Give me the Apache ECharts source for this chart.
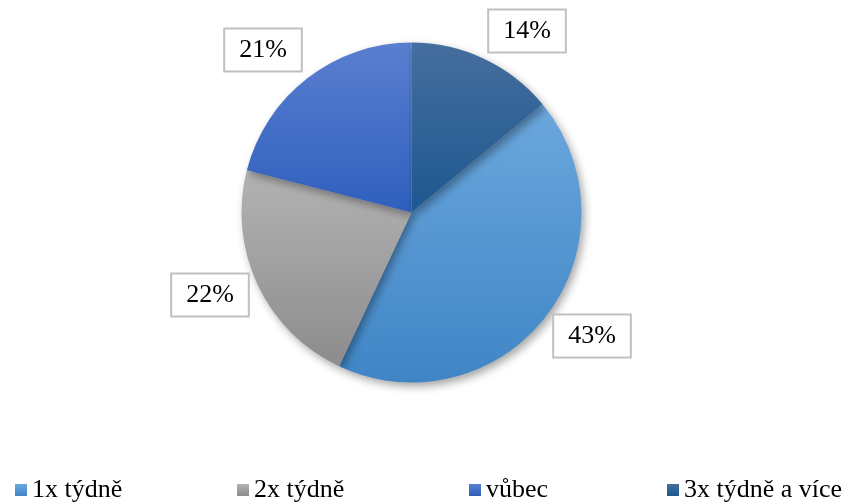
<!DOCTYPE html>
<html><head><meta charset="utf-8">
<script src="https://cdn.jsdelivr.net/npm/echarts@6/dist/echarts.min.js"></script>
<style>html,body{margin:0;padding:0;background:#fff}#c{width:849px;height:503px}</style>
</head><body><div id="c"></div>
<script>
const categories = ['1x týdně', '2x týdně', 'vůbec', '3x týdně a více'];
const values = [43, 22, 21, 14];
const labels = ['43%', '22%', '21%', '14%'];
const topColors = ['#6ba7dd', '#b3b3b3', '#5a7fd0', '#456e9e'];
const bottomColors = ['#3f85c6', '#8c8c8c', '#2f5fbd', '#1d5890'];

// layout (not data)
const cx = 411.5, cy = 212.5, R = 170;
const labelOffsets = [[180.5, 123.5], [-201.5, 82.5], [-148.5, -162.5], [115.5, -181.5]];
const legendLefts = [15, 237, 469, 667];

const total = values.reduce((a, b) => a + b, 0);
const startFromTop = values[3] / total * 360;
const startAngle = 90 - startFromTop;

const chart = echarts.init(document.getElementById('c'));
chart.setOption({
  animation: false,
  legend: categories.map((c, i) => ({
    data: [c],
    left: legendLefts[i], top: 477, padding: 0,
    itemWidth: 12, itemHeight: 12,
    icon: 'rect',
    selectedMode: false,
    textStyle: { fontFamily: 'Liberation Serif', fontSize: 26, color: '#000' }
  })),
  series: [{
    type: 'pie',
    center: [cx, cy],
    radius: R,
    startAngle: startAngle,
    clockwise: true,
    data: categories.map((c, i) => ({
      name: c, value: values[i],
      itemStyle: {
        color: new echarts.graphic.LinearGradient(0, 0, 0, 1, [
          { offset: 0, color: topColors[i] }, { offset: 1, color: bottomColors[i] }
        ])
      }
    })),
    itemStyle: { shadowBlur: 8, shadowOffsetX: 3, shadowOffsetY: 4, shadowColor: 'rgba(0,0,0,0.35)' },
    labelLine: { show: false },
    label: {
      show: true,
      position: 'outside',
      formatter: p => labels[p.dataIndex],
      fontFamily: 'Liberation Serif', fontSize: 26, lineHeight: 26, color: '#000',
      backgroundColor: '#fff', borderColor: '#c0c0c0', borderWidth: 2,
      padding: [8, 14, 7, 14]
    },
    labelLayout: function (params) {
      const o = labelOffsets[params.dataIndex];
      return { x: cx + o[0], y: cy + o[1], align: 'center', verticalAlign: 'middle' };
    },
    emphasis: { disabled: true }
  }]
});
</script></body></html>
